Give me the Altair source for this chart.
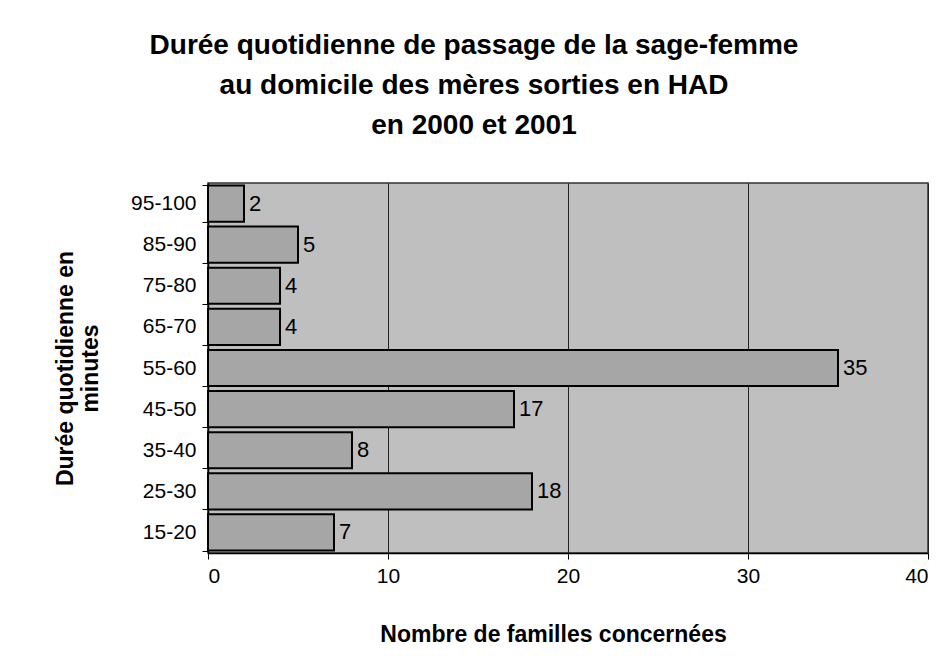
import altair as alt
import pandas as pd

categories = ["95-100", "85-90", "75-80", "65-70", "55-60", "45-50", "35-40", "25-30", "15-20"]
values = [2, 5, 4, 4, 35, 17, 8, 18, 7]
x_ticks = [0, 10, 20, 30, 40]

df = pd.DataFrame({"duree": categories, "n": values})

FONT = "Liberation Sans"

y_enc = alt.Y(
    "duree:N",
    sort=categories,
    scale=alt.Scale(paddingInner=0.12, paddingOuter=0.06),
    axis=alt.Axis(
        title=["Durée quotidienne en", "minutes"],
        titleFont=FONT, titleFontSize=23, titleFontWeight="bold", titleColor="black",
        titlePadding=28, titleLineHeight=25,
        labelFont=FONT, labelFontSize=21, labelColor="black", labelPadding=6,
        tickSize=6, tickColor="black", tickBand="extent",
        domainColor="black", domainWidth=1.5, grid=False,
    ),
)

x_enc = alt.X(
    "n:Q",
    scale=alt.Scale(domain=[0, 40], nice=False),
    axis=alt.Axis(
        values=x_ticks,
        title="Nombre de familles concernées",
        titleFont=FONT, titleFontSize=23, titleFontWeight="bold", titleColor="black",
        titlePadding=37, titleX=345,
        labelFont=FONT, labelFontSize=21, labelColor="black", labelPadding=6,
        tickSize=6, tickColor="black",
        domainColor="black", domainWidth=1.5,
        grid=True, gridColor="#222222", gridWidth=1,
    ),
)

bars = alt.Chart(df).mark_bar(
    fill="#a6a6a6", stroke="black", strokeWidth=2
).encode(x=x_enc, y=y_enc)

labels = alt.Chart(df).mark_text(
    align="left", baseline="middle", dx=5, font=FONT, fontSize=22, color="black"
).encode(x="n:Q", y=alt.Y("duree:N", sort=categories), text="n:Q")

chart = (bars + labels).properties(
    width=720,
    height=370,
    autosize=alt.AutoSizeParams(type="none"),
    padding={"left": 200, "top": 175, "right": 15, "bottom": 98},
    view=alt.ViewBackground(fill="#bfbfbf", stroke="#333333", strokeWidth=1.5),
    title=alt.TitleParams(
        text=["Durée quotidienne de passage de la sage-femme",
              "au domicile des mères sorties en HAD",
              "en 2000 et 2001"],
        font=FONT, fontSize=28, fontWeight="bold", color="black",
        anchor="middle", frame="group", dx=-94, offset=32, lineHeight=40,
    ),
).configure(background="white")

chart.save("out.html", embed_options={"renderer": "svg", "actions": False})
